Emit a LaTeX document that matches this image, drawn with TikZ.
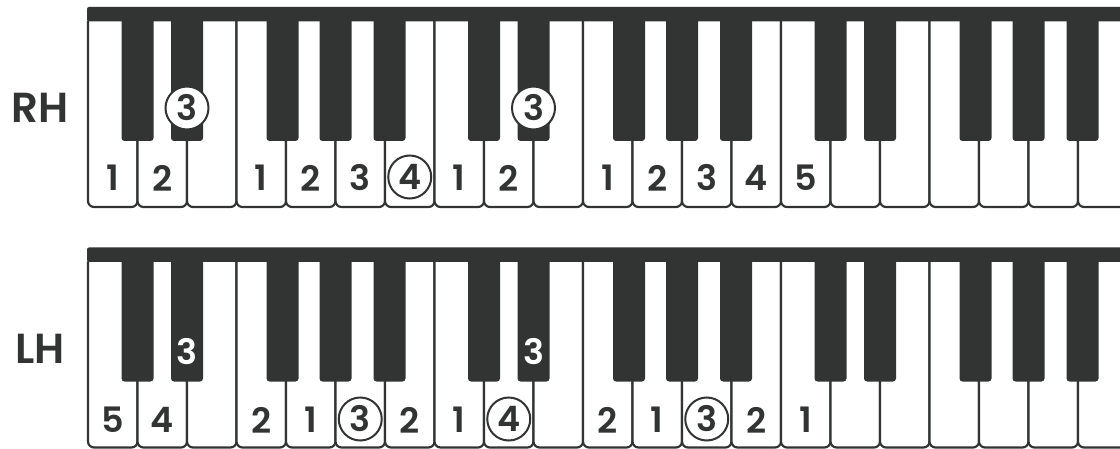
\documentclass[tikz,border=0pt]{standalone}
\usepackage{fontspec}
\setmainfont{Poppins}
\IfFontExistsTF{Poppins SemiBold}
  {\newfontfamily\numfont{Poppins SemiBold}}
  {\newfontfamily\numfont{Poppins}[FakeBold=1]}
\definecolor{ink}{HTML}{323433}
\tikzset{
  digit/.style={text=ink, font=\numfont\fontsize{35}{35}\selectfont, inner sep=0pt},
  whitedigit/.style={digit, text=white},
  circdigit/.style={digit, circle, draw=ink, line width=2pt, fill=white, minimum size=43pt},
  handlabel/.style={text=ink, font=\numfont\fontsize{42}{42}\selectfont, inner sep=0pt},
  whitekey/.style={draw=ink, line width=2.2pt, fill=white, rounded corners=6pt},
  blackkey/.style={fill=ink, rounded corners=3pt},
}
\newcommand\pianorow[1]{%
  \foreach \k in {0,...,20} {
    \pgfmathsetmacro\xl{88+49.5*\k}
    \pgfmathsetmacro\xr{88+49.5*(\k+1)}
    \draw[whitekey] (\xl,#1+14) -- (\xl,#1+200) -- (\xr,#1+200) -- (\xr,#1+14);
  }
  \fill[ink, rounded corners=2pt] (87,#1) rectangle (1140,#1+14.5);
  \foreach \o in {0,1,2} {
    \foreach \d in {49.5,99,194.5,247.5,301.5} {
      \pgfmathsetmacro\xc{88+346.5*\o+\d}
      \fill[blackkey] (\xc-16,#1+8) rectangle (\xc+16,#1+134);
    }
  }
}
\begin{document}
\begin{tikzpicture}[x=1pt,y=-1pt]
\useasboundingbox (0,0) rectangle (1120,449);
\clip (0,0) rectangle (1120,449);
\fill[white] (0,0) rectangle (1120,449);
% keyboards
\pianorow{7}
\pianorow{247.5}
% hand labels
\node[handlabel] (rh) at (40,108) {RH};
\node[handlabel] (lh) at (40,349) {LH};
% RH fingering
\node[circdigit] (rhb1) at (187,108) {3};
\node[circdigit] (rhb2) at (533.5,108) {3};
\node[digit] (r0) at (112.75,178) {1};
\node[digit] (r1) at (162.25,178) {2};
\node[digit] (r3) at (261.25,178) {1};
\node[digit] (r4) at (310.75,178) {2};
\node[digit] (r5) at (360.25,178) {3};
\node[circdigit] (r6) at (409.75,177) {4};
\node[digit] (r7) at (459.25,178) {1};
\node[digit] (r8) at (508.75,178) {2};
\node[digit] (r10) at (607.75,178) {1};
\node[digit] (r11) at (657.25,178) {2};
\node[digit] (r12) at (706.75,178) {3};
\node[digit] (r13) at (756.25,178) {4};
\node[digit] (r14) at (805.75,178) {5};
% LH fingering
\node[whitedigit] (lhb1) at (187,352) {3};
\node[whitedigit] (lhb2) at (533.5,352) {3};
\node[digit] (l0) at (112.75,420) {5};
\node[digit] (l1) at (162.25,420) {4};
\node[digit] (l3) at (261.25,420) {2};
\node[digit] (l4) at (310.75,420) {1};
\node[circdigit] (l5) at (360.25,419) {3};
\node[digit] (l6) at (409.75,420) {2};
\node[digit] (l7) at (459.25,420) {1};
\node[circdigit] (l8) at (508.75,419) {4};
\node[digit] (l10) at (607.75,420) {2};
\node[digit] (l11) at (657.25,420) {1};
\node[circdigit] (l12) at (706.75,419) {3};
\node[digit] (l13) at (756.25,420) {2};
\node[digit] (l14) at (805.75,420) {1};
\end{tikzpicture}
\end{document}
